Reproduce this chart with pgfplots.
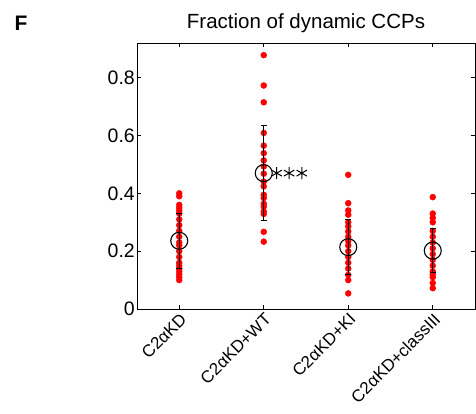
\documentclass[border=0pt]{standalone}
\usepackage{pgfplots}
\pgfplotsset{compat=1.18}
\usepackage{fontspec}
\setmainfont{Liberation Sans}
\begin{document}
\begin{tikzpicture}
\begin{axis}[
  scale only axis, width=338pt, height=266pt,
  xmin=0.5, xmax=4.5, ymin=0, ymax=0.92,
  xtick={1,2,3,4},
  xticklabels={C2αKD, C2αKD+WT, C2αKD+KI, C2αKD+classIII},
  xticklabel style={rotate=45, anchor=north east, font=\fontsize{17}{17}\selectfont, inner sep=2pt},
  ytick={0,0.2,0.4,0.6,0.8},
  yticklabel style={font=\fontsize{19.5}{19.5}\selectfont, inner sep=2pt},
  /pgf/number format/assume math mode=true,
  tick align=inside, major tick length=4pt,
  tick style={black, line width=0.8pt},
  axis line style={line width=0.9pt},
  title={Fraction of dynamic CCPs},
  title style={font=\fontsize{20.5}{20.5}\selectfont, at={(0.5,1)}, anchor=base, yshift=9pt},
  clip marker paths=true,
]
% individual points
\addplot[only marks, mark=*, mark size=3pt, color=red] coordinates {
 (1,0.40) (1,0.39) (1,0.36) (1,0.35) (1,0.34) (1,0.33) (1,0.31) (1,0.29) (1,0.27) (1,0.25) (1,0.23)
 (1,0.22) (1,0.20) (1,0.18) (1,0.16) (1,0.15) (1,0.14) (1,0.13) (1,0.12) (1,0.11) (1,0.10)
};
\addplot[only marks, mark=*, mark size=3pt, color=red] coordinates {
 (2,0.878) (2,0.773) (2,0.715) (2,0.609) (2,0.565) (2,0.539) (2,0.514) (2,0.493) (2,0.468) (2,0.441)
 (2,0.424) (2,0.395) (2,0.384) (2,0.364) (2,0.354) (2,0.337) (2,0.329) (2,0.267) (2,0.233)
};
\addplot[only marks, mark=*, mark size=3pt, color=red] coordinates {
 (3,0.464) (3,0.366) (3,0.341) (3,0.326) (3,0.30) (3,0.286) (3,0.268) (3,0.25) (3,0.235) (3,0.22)
 (3,0.20) (3,0.18) (3,0.16) (3,0.14) (3,0.118) (3,0.10) (3,0.054)
};
\addplot[only marks, mark=*, mark size=3pt, color=red] coordinates {
 (4,0.387) (4,0.33) (4,0.315) (4,0.30) (4,0.27) (4,0.25) (4,0.23) (4,0.21) (4,0.19) (4,0.17)
 (4,0.15) (4,0.13) (4,0.12) (4,0.11) (4,0.09) (4,0.072)
};
% error bars (mean +- sd), drawn as vertical segments with caps
\pgfplotsset{errbar/.style={black, line width=0.9pt, mark=-, mark size=3pt, mark options={black, line width=0.9pt}}}
\addplot[errbar] coordinates {(1,0.140) (1,0.332)};
\addplot[errbar] coordinates {(2,0.306) (2,0.634)};
\addplot[errbar] coordinates {(3,0.119) (3,0.309)};
\addplot[errbar] coordinates {(4,0.127) (4,0.277)};
% means
\addplot[only marks, mark=o, mark size=8.5pt, black, mark options={line width=1.1pt}] coordinates {
 (1,0.236) (2,0.470) (3,0.214) (4,0.202)
};
% significance stars
\addplot[only marks, mark=asterisk, mark size=6pt, black, mark options={line width=1pt}] coordinates {
 (2.153,0.47) (2.30,0.47) (2.45,0.47)
};
\end{axis}
\node[anchor=base west, font=\bfseries\fontsize{21}{21}\selectfont] at ([shift={(-126pt,13pt)}]current axis.north west) {F};
\pgfresetboundingbox
\path ([shift={(-137pt,-104pt)}]current axis.south west) rectangle ([shift={(339pt,309pt)}]current axis.south west);
\end{tikzpicture}
\end{document}
